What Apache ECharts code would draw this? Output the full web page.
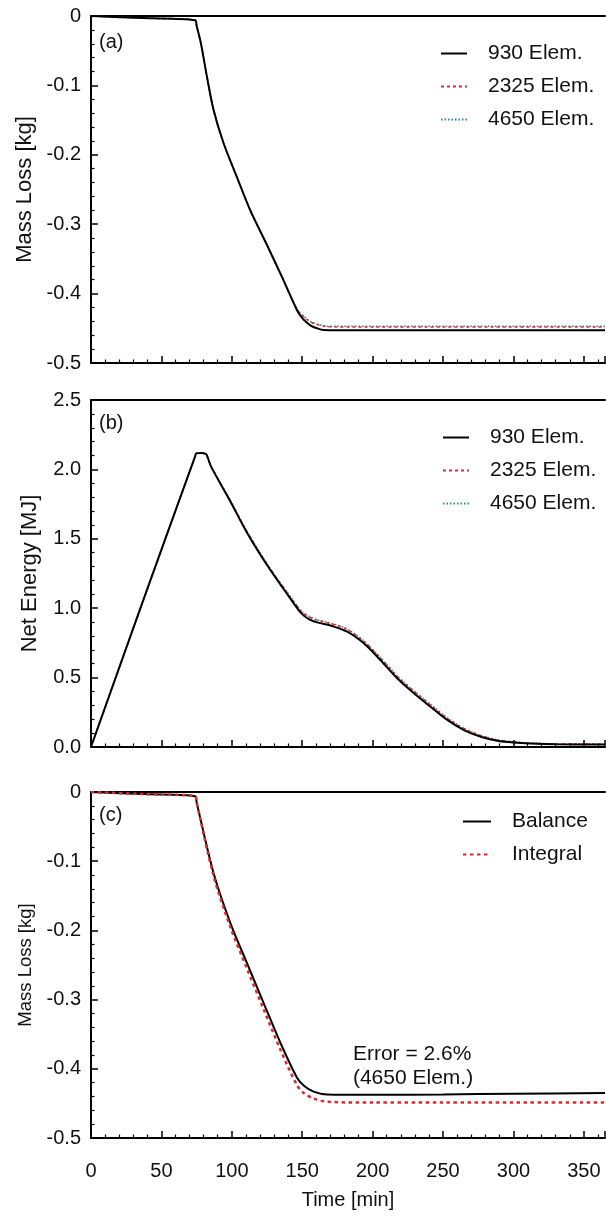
<!DOCTYPE html>
<html>
<head>
<meta charset="utf-8">
<script src="https://cdn.jsdelivr.net/npm/echarts@6/dist/echarts.min.js"></script>
<style>
html,body{margin:0;padding:0;background:#fff;}
#chart{width:606px;height:1219px;}
</style>
</head>
<body>
<div id="chart"></div>
<script>
// ---------- data ----------
const xTicks = [0, 50, 100, 150, 200, 250, 300, 350];
const legendAB = ['930 Elem.', '2325 Elem.', '4650 Elem.'];
const legendC = ['Balance', 'Integral'];
const panelTags = ['(a)', '(b)', '(c)'];
const yNames = ['Mass Loss [kg]', 'Net Energy [MJ]', 'Mass Loss [kg]'];
const xName = 'Time [min]';
const errorNote = ['Error = 2.6%', '(4650 Elem.)'];
const errorAt = [186, -0.396];

// panel (a) mass loss
const tA930 = [0, 37, 74, 75, 78, 82.3, 87, 94.1, 103.6, 113.1, 124.5, 135.6, 146.3, 149.5, 152.2, 156, 160.5, 165.2, 175, 200, 250, 300, 365];
const vA930 = [0, -0.003, -0.006, -0.014, -0.039, -0.087, -0.135, -0.183, -0.232, -0.280, -0.328, -0.376, -0.424, -0.434, -0.440, -0.446, -0.450, -0.4525, -0.4528, -0.4528, -0.4528, -0.4528, -0.4528];
const tA2325 = [0, 37, 74, 75, 78, 82.3, 87, 94.1, 103.6, 113.1, 124.5, 135.6, 146.3, 150, 153, 157, 161, 167, 175, 200, 250, 300, 365];
const vA2325 = [0, -0.003, -0.006, -0.014, -0.039, -0.087, -0.135, -0.183, -0.232, -0.280, -0.328, -0.376, -0.423, -0.431, -0.437, -0.442, -0.445, -0.4475, -0.448, -0.448, -0.448, -0.448, -0.448];
const tA4650 = [0, 37, 74, 75, 78, 82.3, 87, 94.1, 103.6, 113.1, 124.5, 135.6, 146.3, 150, 153, 157, 161, 167, 175, 200, 250, 300, 365];
const vA4650 = [0, -0.003, -0.006, -0.014, -0.039, -0.087, -0.135, -0.183, -0.232, -0.280, -0.328, -0.376, -0.423, -0.431, -0.436, -0.441, -0.444, -0.4468, -0.4472, -0.4472, -0.4472, -0.4472, -0.4472];

// panel (b) net energy
const tB = [0, 37.2, 74, 74.7, 78, 81.8, 82.5, 85.3, 98.4, 111, 125.7, 142.2, 149.4, 155, 161.2, 170, 181.9, 193.7, 205.5, 217.4, 229.3, 241.1, 253, 264.8, 276.7, 288.5, 300, 312, 330, 365];
const vB930 = [0, 1.06, 2.096, 2.115, 2.118, 2.11, 2.097, 2.02, 1.78, 1.54, 1.30, 1.06, 0.963, 0.92, 0.896, 0.875, 0.831, 0.747, 0.627, 0.495, 0.387, 0.29, 0.195, 0.122, 0.074, 0.045, 0.032, 0.025, 0.02, 0.018];
const vB2325 = [0, 1.06, 2.096, 2.115, 2.118, 2.11, 2.097, 2.02, 1.785, 1.548, 1.308, 1.072, 0.978, 0.937, 0.912, 0.89, 0.847, 0.762, 0.642, 0.51, 0.402, 0.304, 0.207, 0.133, 0.083, 0.051, 0.036, 0.028, 0.022, 0.02];
const vB4650 = [0, 1.06, 2.096, 2.115, 2.118, 2.11, 2.097, 2.02, 1.786, 1.55, 1.31, 1.075, 0.98, 0.94, 0.915, 0.893, 0.85, 0.765, 0.645, 0.513, 0.405, 0.307, 0.21, 0.135, 0.084, 0.052, 0.037, 0.029, 0.023, 0.02];

// panel (c) balance vs integral
const tC = [0, 37, 74, 75, 87, 98.9, 110.7, 122.6, 134.4, 146.3, 151, 158.1, 167.6, 200, 250, 300, 365];
const vCBalance = [0, -0.003, -0.006, -0.015, -0.117, -0.189, -0.247, -0.305, -0.362, -0.413, -0.424, -0.433, -0.437, -0.4375, -0.437, -0.436, -0.435];
const vCIntegral = [0, -0.003, -0.006, -0.015, -0.121, -0.195, -0.255, -0.314, -0.372, -0.424, -0.435, -0.443, -0.4475, -0.4488, -0.4488, -0.4488, -0.4488];

// ---------- chart ----------
const FONT = '"Liberation Sans", Arial, sans-serif';
const BLACK = '#000000';
const RED = '#dc2a2e';
const TEAL = '#2f8a80';
const pairs = (t, v) => t.map((x, i) => [x, v[i]]);

const grids = [
  {left: 91, top: 16, width: 514, height: 347},
  {left: 91, top: 400, width: 514, height: 347},
  {left: 91, top: 792, width: 514, height: 346}
];

function bottomX(gi, showLabels) {
  return {
    type: 'value', gridIndex: gi, position: 'bottom', min: 0, max: 365, interval: 50,
    axisLine: {show: true, onZero: false, lineStyle: {color: BLACK, width: 2}},
    axisTick: {show: true, inside: true, length: 7, lineStyle: {color: BLACK, width: 1.5}},
    minorTick: {show: true, splitNumber: 5, length: 3.5, lineStyle: {color: BLACK, width: 1.2}},
    splitLine: {show: false},
    axisLabel: {show: showLabels, fontSize: 20, color: '#111', fontFamily: FONT, margin: 23, showMaxLabel: false,
      formatter: v => (xTicks.indexOf(v) >= 0 ? String(v) : '')},
    name: showLabels ? xName : '',
    nameLocation: 'middle', nameGap: 52,
    nameTextStyle: {fontSize: 20, color: '#111', fontFamily: FONT}
  };
}
function topX(gi) {
  return {
    type: 'value', gridIndex: gi, position: 'top', min: 0, max: 365,
    axisLine: {show: true, onZero: false, lineStyle: {color: BLACK, width: 2}},
    axisTick: {show: false}, axisLabel: {show: false}, splitLine: {show: false}
  };
}
function leftY(gi, min, max, interval, fmt, name, nameSize) {
  return {
    type: 'value', gridIndex: gi, min: min, max: max, interval: interval,
    axisLine: {show: true, onZero: false, lineStyle: {color: BLACK, width: 2}},
    axisTick: {show: true, inside: true, length: 7, lineStyle: {color: BLACK, width: 1.5}},
    minorTick: {show: true, splitNumber: 5, length: 3.5, lineStyle: {color: BLACK, width: 1.2}},
    splitLine: {show: false},
    axisLabel: {fontSize: 20, color: '#111', fontFamily: FONT, margin: 10, formatter: fmt},
    name: name, nameLocation: 'middle', nameGap: 50,
    nameTextStyle: {fontSize: nameSize, color: '#111', fontFamily: FONT}
  };
}
const fmtMass = v => (Math.abs(v) < 1e-9 ? '0' : v.toFixed(1));
const fmtEnergy = v => v.toFixed(1);

function line(name, xi, t, v, color, type, width, z) {
  return {
    type: 'line', name: name, xAxisIndex: xi, yAxisIndex: xi,
    data: pairs(t, v), symbol: 'none', showSymbol: false, z: z,
    smooth: 0.3,
    lineStyle: {color: color, type: type, width: width},
    itemStyle: {color: color},
    emphasis: {disabled: true}
  };
}

const legendText = {fontSize: 21, color: '#111', fontFamily: FONT, padding: [0, 0, 0, 16]};
const hiddenSymbol = {color: 'rgba(0,0,0,0)', borderColor: 'rgba(0,0,0,0)', borderWidth: 0, opacity: 0};
function legendAt(names, left, top, w) {
  return {data: names, orient: 'vertical', left: left, top: top, padding: 0,
    itemWidth: w, itemHeight: 14, itemGap: 12, selectedMode: false,
    itemStyle: hiddenSymbol, textStyle: legendText};
}

const option = {
  animation: false,
  backgroundColor: '#ffffff',
  grid: grids,
  xAxis: [bottomX(0, false), bottomX(1, false), bottomX(2, true), topX(0), topX(1), topX(2)],
  yAxis: [
    leftY(0, -0.5, 0, 0.1, fmtMass, yNames[0], 22),
    leftY(1, 0, 2.5, 0.5, fmtEnergy, yNames[1], 22),
    leftY(2, -0.5, 0, 0.1, fmtMass, yNames[2], 18.5)
  ],
  legend: [
    legendAt(legendAB, 440, 43, 26),
    legendAt(legendAB, 442, 427, 26),
    legendAt(legendC, 462, 811, 28)
  ],
  graphic: [
    {type: 'text', left: 99, top: 32, style: {text: panelTags[0], font: '20px ' + FONT, fill: '#111'}},
    {type: 'text', left: 99, top: 413, style: {text: panelTags[1], font: '20px ' + FONT, fill: '#111'}},
    {type: 'text', left: 99, top: 805, style: {text: panelTags[2], font: '20px ' + FONT, fill: '#111'}}
  ],
  series: [
    line(legendAB[0], 0, tA930, vA930, BLACK, 'solid', 2, 4),
    line(legendAB[1], 0, tA2325, vA2325, RED, [3, 3], 1.5, 3),
    line(legendAB[2], 0, tA4650, vA4650, TEAL, [1.5, 2], 1.5, 2),
    line(legendAB[0], 1, tB, vB930, BLACK, 'solid', 2, 4),
    line(legendAB[1], 1, tB, vB2325, RED, [3, 3], 1.5, 3),
    line(legendAB[2], 1, tB, vB4650, TEAL, [1.5, 2], 1.5, 2),
    Object.assign(line(legendC[0], 2, tC, vCBalance, BLACK, 'solid', 2, 3), {
      markPoint: {
        symbol: 'circle', symbolSize: 0, silent: true,
        data: [{coord: errorAt}],
        label: {show: true, position: 'right', distance: 0, color: '#111', fontFamily: FONT, fontSize: 21, lineHeight: 24,
          align: 'left', formatter: errorNote.join('\n')}
      }
    }),
    line(legendC[1], 2, tC, vCIntegral, RED, [3.5, 3.5], 2.5, 4)
  ]
};

const chart = echarts.init(document.getElementById('chart'), null, {renderer: 'canvas'});
chart.setOption(option);
</script>
</body>
</html>
